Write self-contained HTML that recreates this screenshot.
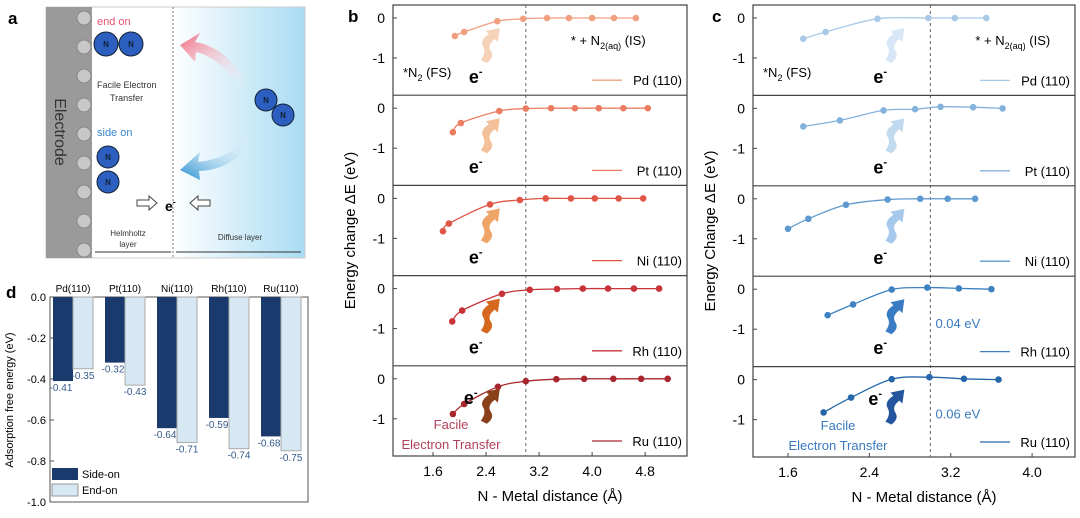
<!DOCTYPE html>
<html><head><meta charset="utf-8"><style>
body{margin:0;background:#fff;}
svg text{font-family:"Liberation Sans","Noto Sans CJK SC",sans-serif;}
</style></head><body>
<svg id="fig" width="1080" height="513" viewBox="0 0 1080 513" xmlns="http://www.w3.org/2000/svg">
<defs>
<linearGradient id="diff" x1="0" x2="1" y1="0" y2="0"><stop offset="0" stop-color="#fff"/><stop offset="1" stop-color="#a9dcf3"/></linearGradient>
<linearGradient id="redArr" x1="1" x2="0" y1="1" y2="0"><stop offset="0" stop-color="#fff" stop-opacity="0"/><stop offset="1" stop-color="#ee6a80"/></linearGradient>
<linearGradient id="blueArr" x1="1" x2="0" y1="0" y2="1"><stop offset="0" stop-color="#fff" stop-opacity="0"/><stop offset="1" stop-color="#1e8bd0"/></linearGradient>
</defs>
<!-- panel a -->
<g>
<text x="8" y="24" font-size="17" font-weight="bold">a</text>
<rect x="172" y="7" width="133" height="251" fill="url(#diff)"/>
<rect x="46" y="7" width="259" height="251" fill="none" stroke="#ccc"/>
<rect x="46" y="7" width="46" height="251" fill="#9a9a9a"/>
<text transform="translate(55,132) rotate(90)" font-size="16" fill="#333" text-anchor="middle">Electrode</text>
<g id="ions"></g>
<line x1="173" y1="7" x2="173" y2="258" stroke="#777" stroke-dasharray="2,2"/>
<text x="97" y="25" font-size="11" fill="#e8506a">end on</text>
<g stroke="#123" fill="#2c5fbf"><circle cx="106" cy="44" r="12"/><circle cx="131" cy="44" r="12"/></g>
<text x="97" y="88" font-size="9" fill="#333">Facile Electron</text>
<text x="110" y="101" font-size="9" fill="#333">Transfer</text>
<text x="97" y="136" font-size="11" fill="#3a86d0">side on</text>
<g stroke="#123" fill="#2c5fbf"><circle cx="108" cy="157" r="11"/><circle cx="108" cy="182" r="11"/></g>
<g stroke="#123" fill="#2c5fbf"><circle cx="266" cy="100" r="11"/><circle cx="283" cy="115" r="11"/></g>
<g font-size="8" font-weight="bold" fill="#123" text-anchor="middle"><text x="106" y="47">N</text><text x="131" y="47">N</text><text x="108" y="160">N</text><text x="108" y="185">N</text><text x="266" y="103">N</text><text x="283" y="118">N</text></g>
<path d="M248,85 C235,60 215,45 195,42 L200,33 L180,45 L195,62 L196,52 C212,55 228,70 240,88 Z" fill="url(#redArr)"/>
<path d="M245,135 C238,150 220,160 198,162 L200,152 L180,170 L200,180 L199,171 C222,170 240,160 250,140 Z" fill="url(#blueArr)"/>
<text x="165" y="211" font-size="14" font-weight="bold">e<tspan font-size="9" dy="-6">-</tspan></text>
<path d="M137,200 h12 v-4 l8,7 l-8,7 v-4 h-12 z" fill="#fff" stroke="#444"/>
<path d="M210,200 h-12 v-4 l-8,7 l8,7 v-4 h12 z" fill="#fff" stroke="#444"/>
<text x="128" y="236" font-size="8" fill="#333" text-anchor="middle">Helmholtz</text>
<text x="128" y="247" font-size="8" fill="#333" text-anchor="middle">layer</text>
<text x="240" y="240" font-size="8" fill="#333" text-anchor="middle">Diffuse layer</text>
<line x1="95" y1="252" x2="171" y2="252" stroke="#333"/>
<line x1="176" y1="252" x2="301" y2="252" stroke="#333"/>
</g>
<!-- panel d -->
<g id="pd">
<text x="6" y="298" font-size="17" font-weight="bold">d</text>
<rect x="50" y="297" width="258" height="205" fill="none" stroke="#555"/>
<text transform="translate(13,400) rotate(-90)" font-size="11" text-anchor="middle">Adsorption free energy (eV)</text>
<rect x="52" y="468" width="26" height="12" fill="#1a3a6e"/>
<text x="82" y="478" font-size="11">Side-on</text>
<rect x="52" y="484" width="26" height="12" fill="#d6e8f3" stroke="#999"/>
<text x="82" y="494" font-size="11">End-on</text>
</g>
<!-- panel b and c -->
<g id="pb"><text x="348" y="22" font-size="17" font-weight="bold">b</text></g>
<g id="pc"><text x="712" y="22" font-size="17" font-weight="bold">c</text></g>
</svg>
<script>
const NS="http://www.w3.org/2000/svg";
// panel d data
const dCats=["Pd(110)","Pt(110)","Ni(110)","Rh(110)","Ru(110)"];
const dSide=[-0.41,-0.32,-0.64,-0.59,-0.68];
const dEnd=[-0.35,-0.43,-0.71,-0.74,-0.75];
const dTicks=[0.0,-0.2,-0.4,-0.6,-0.8,-1.0];
// panel b data
const bMetals=["Pd (110)","Pt (110)","Ni (110)","Rh (110)","Ru (110)"];
const bX=[[1.93,2.07,2.57,2.96,3.32,3.65,4.0,4.33,4.66],[1.9,2.02,2.6,3.0,3.38,3.74,4.1,4.47,4.84],[1.75,1.84,2.46,2.91,3.3,3.68,4.04,4.4,4.77],[1.89,2.04,2.64,3.06,3.47,3.86,4.24,4.63,5.01],[1.9,2.07,2.58,3.0,3.46,3.88,4.32,4.74,5.14]];
const bY=[[-0.45,-0.35,-0.08,-0.02,0,0,0,0,0],[-0.6,-0.37,-0.07,-0.01,0,0,0,0,0],[-0.82,-0.63,-0.15,-0.04,0,0,0,0,0],[-0.82,-0.55,-0.13,-0.03,-0.01,0,0,0,0],[-0.88,-0.63,-0.2,-0.06,-0.01,0,0,0,0]];
const bXTicks=[1.6,2.4,3.2,4.0,4.8];
// panel c data
const cX=[[1.75,1.97,2.48,2.98,3.24,3.55],[1.75,2.11,2.54,2.85,3.1,3.42,3.71],[1.6,1.8,2.17,2.58,2.9,3.17,3.44],[1.99,2.24,2.62,2.97,3.28,3.6],[1.95,2.22,2.62,2.99,3.33,3.67]];
const cY=[[-0.52,-0.35,-0.02,0,0,0],[-0.45,-0.3,-0.05,-0.02,0.04,0.03,0],[-0.75,-0.5,-0.15,-0.02,0,0,0],[-0.65,-0.38,-0.01,0.04,0.02,0],[-0.82,-0.45,0.01,0.06,0.02,0]];
const cXTicks=[1.6,2.4,3.2,4.0];
const yTicks=[0,-1];

function el(parent,tag,attrs,text){const e=document.createElementNS(NS,tag);for(const k in attrs)e.setAttribute(k,attrs[k]);if(text!==undefined)e.textContent=text;parent.appendChild(e);return e;}
const svg=document.getElementById('fig');
// ions
const ions=document.getElementById('ions');
for(let i=0;i<9;i++){const c=el(ions,'circle',{cx:84,cy:18+i*29,r:7,fill:'#c8c8c8',stroke:'#888'});

}

// panel d
const pd=document.getElementById('pd');
const dy=v=>297-v*(-205);
const dyv=v=>297+(-v)*205;
dTicks.forEach(t=>{const y=dyv(t);el(pd,'line',{x1:50,x2:54,y1:y,y2:y,stroke:'#555'});
const tx=el(pd,'text',{x:46,y:y+4,'font-size':11,'text-anchor':'end'},t.toFixed(1));

});
dCats.forEach((c,i)=>{const gx=53+i*52;
const t=el(pd,'text',{x:gx+20,y:292,'font-size':10,'text-anchor':'middle'},c);


const b1=el(pd,'rect',{x:gx,y:297,width:20,height:dyv(dSide[i])-297,fill:'#1a3a6e'});


const b2=el(pd,'rect',{x:gx+20,y:297,width:20,height:dyv(dEnd[i])-297,fill:'#d6e8f3',stroke:'#aaa'});


const l1=el(pd,'text',{x:gx+8,y:dyv(dSide[i])+10,'font-size':10,fill:'#34598a','text-anchor':'middle'},dSide[i].toFixed(2));


const l2=el(pd,'text',{x:gx+30,y:dyv(dEnd[i])+10,'font-size':10,fill:'#34598a','text-anchor':'middle'},dEnd[i].toFixed(2));

});

function smooth(pts){let d=`M${pts[0][0]},${pts[0][1]}`;for(let i=0;i<pts.length-1;i++){const p0=pts[Math.max(0,i-1)],p1=pts[i],p2=pts[i+1],p3=pts[Math.min(pts.length-1,i+2)];
d+=` C${p1[0]+(p2[0]-p0[0])/6},${p1[1]+(p2[1]-p0[1])/6} ${p2[0]-(p3[0]-p1[0])/6},${p2[1]-(p3[1]-p1[1])/6} ${p2[0]},${p2[1]}`;}return d;}

function panel(g,o){
 const {L,R,T,B,x0,pxPer,xs,ys,ticks,colors,dash,ytitle,textCol,arrowCols}=o;
 const X=v=>L+(x0-1.6)+ (v-1.6)*pxPer + (o.x16-L-(x0-1.6));
 const rowH=(B-T)/5;
 el(g,'rect',{x:L,y:T,width:R-L,height:B-T,fill:'none',stroke:'#444','stroke-width':1.2});
 const dl=el(g,'line',{x1:X(3.0),x2:X(3.0),y1:T,y2:B,stroke:'#666','stroke-dasharray':'3,3'});
 
 
 for(let r=0;r<5;r++){
  const top=T+r*rowH;if(r>0)el(g,'line',{x1:L,x2:R,y1:top,y2:top,stroke:'#444','stroke-width':1.2});
  const Y=v=>top+13-v*40;
  yTicks.forEach(t=>{el(g,'line',{x1:L,x2:L+4,y1:Y(t),y2:Y(t),stroke:'#444'});
   const tt=el(g,'text',{x:L-8,y:Y(t)+5,'font-size':14,'text-anchor':'end'},String(t));
   
   });
  const pts=xs[r].map((x,i)=>[X(x),Y(ys[r][i])]);
  const p=el(g,'path',{d:smooth(pts),fill:'none',stroke:colors[r],'stroke-width':1.3});
  
  
  pts.forEach(q=>{const c=el(g,'circle',{cx:q[0],cy:q[1],r:3.3,fill:colors[r]});
   
   });
  const ly=top+rowH-10;
  el(g,'line',{x1:R-95,x2:R-65,y1:ly-5,y2:ly-5,stroke:colors[r],'stroke-width':1.3});
  const lt=el(g,'text',{x:R-5,y:ly,'font-size':13,'text-anchor':'end'},xs===bX?bMetals[r]:bMetals[r]);
  
  
  // electron arrow
  const ax=X(3.0)-45, ay=top+55;
  const ar=el(g,'path',{d:`M${ax},${ay} q6,-8 2,-14 q-3,-6 6,-12 l-3,-3 l14,-3 l-2,14 l-3,-3 q-8,6 -4,12 q4,6 -4,12 z`,fill:arrowCols[r]});
  
  
  if(!(r===4)){const e=el(g,'text',{x:ax-12,y:top+78,'font-size':18,'font-weight':'bold'},'e');el(e,'tspan',{'font-size':11,dy:-8},'-');
  
  }
 }
 ticks.forEach(t=>{el(g,'line',{x1:X(t),x2:X(t),y1:B,y2:B-4,stroke:'#444'});
  const tt=el(g,'text',{x:X(t),y:B+20,'font-size':14,'text-anchor':'middle'},t.toFixed(1));
  
  });
 const xt=el(g,'text',{x:(L+R)/2+10,y:B+45,'font-size':15,'text-anchor':'middle'},'N - Metal distance (Å)');
 
 
 const yt=el(g,'text',{transform:`translate(${L-38},${(T+B)/2}) rotate(-90)`,'font-size':15,'text-anchor':'middle'},ytitle);
 
 
 // annotations
 const a1=el(g,'text',{x:X(3.0)+45,y:T+40,'font-size':13},'* + N');el(a1,'tspan',{'font-size':9,dy:4},'2(aq)');el(a1,'tspan',{dy:-4},' (IS)');
 
 
 const a2=el(g,'text',{x:L+10,y:T+72,'font-size':13},'*N');el(a2,'tspan',{'font-size':9,dy:4},'2');el(a2,'tspan',{dy:-4},' (FS)');
 
 
 const f1=el(g,'text',{x:L+(o.facX||50),y:B-27,'font-size':13,fill:textCol,'text-anchor':'middle'},'Facile');
 
 
 const f2=el(g,'text',{x:L+(o.facX||50),y:B-7,'font-size':13,fill:textCol,'text-anchor':'middle'},'Electron Transfer');
 
 
 const e5=el(g,'text',{x:X(3.0)-62,y:B-52,'font-size':18,'font-weight':'bold'},'e');el(e5,'tspan',{'font-size':11,dy:-8},'-');
 
 
 return X;
}
const pb=document.getElementById('pb');
panel(pb,{L:393,R:687,T:5,B:456,x0:1.6,x16:433,pxPer:66.3,xs:bX,ys:bY,ticks:bXTicks,
 colors:['#f0a080','#eb7e60','#e05545','#c73338','#a8262e'],ytitle:'Energy change ΔE (eV)',textCol:'#b0405a',
 arrowCols:['#f6d2b8','#f3c09a','#efa468','#d4681e','#8a4018'],facX:58});
const pc=document.getElementById('pc');
const Xc=panel(pc,{L:753,R:1075,T:5,B:457,x0:1.6,x16:788,pxPer:101.7,xs:cX,ys:cY,ticks:cXTicks,
 colors:['#a9c9e6','#84b2dc','#5e9ad0','#3e82c2','#2566aa'],ytitle:'Energy Change ΔE (eV)',textCol:'#3a7ac0',
 arrowCols:['#d7e7f5','#c2daf0','#a6c8ea','#3a7cc4','#2456a0'],facX:85});
const r1=el(pc,'text',{x:Xc(3.05),y:5+4*90.4-37+90.4-54+0,'font-size':13,fill:'#3a7ac0'},'0.04 eV');
r1.setAttribute('y',5+3*90.4+52);


const r2=el(pc,'text',{x:Xc(3.05),y:5+4*90.4+52,'font-size':13,fill:'#3a7ac0'},'0.06 eV');


</script>
</body></html>
